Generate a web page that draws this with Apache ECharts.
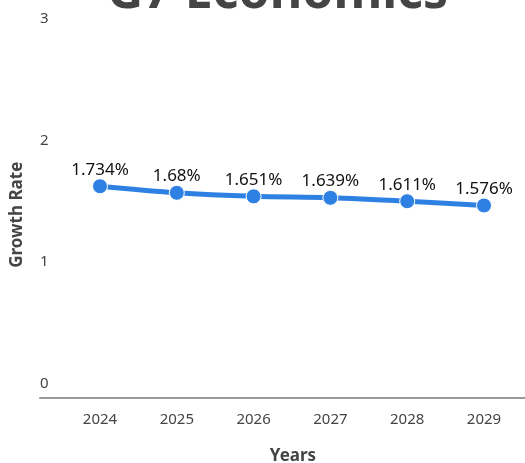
<!DOCTYPE html>
<html>
<head>
<meta charset="utf-8">
<script src="https://cdn.jsdelivr.net/npm/echarts@6/dist/echarts.min.js"></script>
<style>html,body{margin:0;padding:0;background:#fff;}#c{width:525px;height:463px;}</style>
</head>
<body>
<div id="c"></div>
<script>
const years = [2024, 2025, 2026, 2027, 2028, 2029];
const growth = [1.734, 1.68, 1.651, 1.639, 1.611, 1.576];
const yTicks = [0, 1, 2, 3];
const titleText = 'G7 Economics';

const chart = echarts.init(document.getElementById('c'), null, {renderer: 'canvas'});
const font = 'Noto Sans';
chart.setOption({
  animation: false,
  title: {
    text: titleText, left: 107, top: -31, padding: 0,
    textStyle: {fontFamily: font, fontSize: 50, fontWeight: 'bold', color: '#444', lineHeight: 49}
  },
  grid: {left: 40, right: 0, top: 32, bottom: 65.5, containLabel: false, outerBoundsMode: 'none'},
  xAxis: {
    type: 'value',
    min: 2023.21875, max: 2029.534,
    name: 'Years', nameLocation: 'middle', nameGap: 50,
    nameTextStyle: {fontFamily: font, fontSize: 17, fontWeight: 'bold', color: '#444', padding: [0, 0, 0, 21]},
    axisLine: {show: true, lineStyle: {color: '#999', width: 2}},
    axisTick: {show: false},
    splitLine: {show: false},
    axisLabel: {customValues: years, fontFamily: font, fontSize: 15, color: '#444', margin: 15,
      formatter: v => String(v)}
  },
  yAxis: {
    type: 'value', min: 0, max: 3, interval: 1,
    name: 'Growth Rate', nameLocation: 'middle', nameGap: 14,
    nameTextStyle: {fontFamily: font, fontSize: 17, fontWeight: 'bold', color: '#444'},
    axisLine: {show: false}, axisTick: {show: false}, splitLine: {show: false},
    axisLabel: {customValues: yTicks, inside: true, margin: 0, fontFamily: font, fontSize: 15, color: '#444',
      verticalAlign: 'bottom', padding: [0, 0, 6, 0]}
  },
  series: [{
    type: 'line',
    data: years.map((y, i) => [y, growth[i]]),
    smooth: 0.3,
    symbol: 'circle', symbolSize: 15,
    lineStyle: {color: '#2f80e3', width: 5},
    itemStyle: {color: '#2f80e3', borderColor: '#fff', borderWidth: 1},
    label: {show: true, position: 'top', distance: 0, fontFamily: font, fontSize: 17, color: '#111',
      formatter: p => p.value[1] + '%'}
  }]
});
</script>
</body>
</html>
